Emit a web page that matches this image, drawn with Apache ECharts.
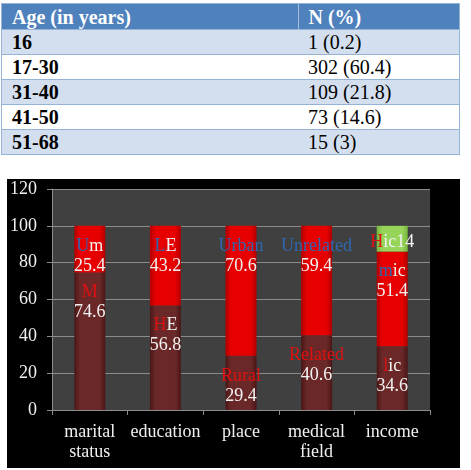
<!DOCTYPE html>
<html>
<head>
<meta charset="utf-8">
<script src="https://cdn.jsdelivr.net/npm/echarts@6/dist/echarts.min.js"></script>
<style>
  html, body { margin: 0; padding: 0; background: #ffffff; width: 471px; height: 470px; overflow: hidden; }
  #tbl { position: absolute; left: 1px; top: 3px; width: 459px; border-collapse: collapse;
         font-family: 'Liberation Serif', 'DejaVu Serif', 'Times New Roman', Times, serif; font-size: 20px; color: #000; }
  #tbl td, #tbl th { padding: 0 0 0 10px; height: 24px; line-height: 24px; text-align: left;
         border-top: 1px solid #95B3D7; border-bottom: 1px solid #95B3D7; }
  #tbl th { background: #4F81BD; color: #ffffff; font-weight: bold; height: 25px; }
  #tbl th + th { border-left: 1px solid #A7BFDE; }
  #tbl td:first-child { font-weight: bold; width: 286px; }
  #tbl tr.odd td { background: #D3DFEE; }
  #tbl tr.even td { background: #ffffff; }
  #tbl { border-left: 1px solid #95B3D7; border-right: 1px solid #95B3D7; }
  #chart { position: absolute; left: 7px; top: 179px; width: 453px; height: 289px; background: #000000; }
</style>
</head>
<body>
<table id="tbl"></table>
<div id="chart"></div>
<script>
// ---- table data ----
var tableHeader = ['Age (in years)', 'N (%)'];
var ageGroups = ['16', '17-30', '31-40', '41-50', '51-68'];
var ageCounts = ['1 (0.2)', '302 (60.4)', '109 (21.8)', '73 (14.6)', '15 (3)'];

// ---- chart data ----
var categories = ['marital\nstatus', 'education', 'place', 'medical\nfield', 'income'];
var lowerValues = [74.6, 56.8, 29.4, 40.6, 34.6];
var lowerLabelColored = ['M', 'H', 'Rural', 'Related', 'l'];
var lowerLabelPlain = ['', 'E', '', '', 'ic'];
var upperValues = [25.4, 43.2, 70.6, 59.4, 51.4];
var upperLabelColored = ['U', 'L', 'Urban', 'Unrelated', 'm'];
var upperLabelPlain = ['m', 'E', '', '', 'ic'];
var topValues = ['-', '-', '-', '-', 14];
var topLabelColored = ['', '', '', '', 'H'];
var topLabelPlain = ['', '', '', '', 'ic'];
var yTicks = { min: 0, max: 120, interval: 20 };

// build table
var tbl = document.getElementById('tbl');
var html = '<tr><th>' + tableHeader[0] + '</th><th>' + tableHeader[1] + '</th></tr>';
for (var i = 0; i < ageGroups.length; i++) {
  html += '<tr class="' + (i % 2 === 0 ? 'odd' : 'even') + '"><td>' + ageGroups[i] + '</td><td>' + ageCounts[i] + '</td></tr>';
}
tbl.innerHTML = html;

var FONT = "'Liberation Serif', 'DejaVu Serif', 'Times New Roman', Times, serif";
var chart = echarts.init(document.getElementById('chart'));

function grad(edge, mid) {
  return new echarts.graphic.LinearGradient(0, 0, 1, 0, [
    { offset: 0, color: edge }, { offset: 0.18, color: mid },
    { offset: 0.82, color: mid }, { offset: 1, color: edge }
  ]);
}

var rich = {
  r: { color: '#E01010', fontFamily: FONT, fontSize: 18, lineHeight: 20 },
  b: { color: '#2E68B0', fontFamily: FONT, fontSize: 18, lineHeight: 20 },
  w: { color: '#F2F2F2', fontFamily: FONT, fontSize: 18, lineHeight: 20 }
};

function twoLine(colored, plain, style) {
  return function (p) {
    var i = p.dataIndex;
    var first = '{' + style + '|' + colored[i] + '}' + (plain[i] ? '{w|' + plain[i] + '}' : '');
    return first + '\n{w|' + p.value + '}';
  };
}

chart.setOption({
  animation: false,
  textStyle: { fontFamily: FONT },
  grid: { left: 45, right: 30, top: 10, bottom: 58, show: true, backgroundColor: '#404040', borderWidth: 0 },
  xAxis: {
    type: 'category',
    data: categories,
    axisLine: { show: true, lineStyle: { color: '#8C8C8C', width: 1 } },
    axisTick: { show: true, length: 5, lineStyle: { color: '#8C8C8C' } },
    axisLabel: { interval: 0, color: '#F0F0F0', fontFamily: FONT, fontSize: 18, lineHeight: 20, margin: 12 }
  },
  yAxis: {
    type: 'value',
    min: yTicks.min, max: yTicks.max, interval: yTicks.interval,
    axisLine: { show: true, lineStyle: { color: '#8C8C8C', width: 1 } },
    axisTick: { show: true, length: 5, lineStyle: { color: '#8C8C8C' } },
    splitLine: { show: true, lineStyle: { color: '#8C8C8C', width: 1 } },
    axisLabel: { color: '#F0F0F0', fontFamily: FONT, fontSize: 18, margin: 15 }
  },
  series: [
    {
      type: 'bar', stack: 'a', barWidth: 31, data: lowerValues,
      itemStyle: { color: grad('#4A1616', '#6A2828') },
      label: { show: true, position: 'insideTop', distance: 10, rich: rich,
               formatter: twoLine(lowerLabelColored, lowerLabelPlain, 'r') }
    },
    {
      type: 'bar', stack: 'a', barWidth: 31, data: upperValues,
      itemStyle: { color: grad('#B00000', '#E60000') },
      label: { show: true, position: 'insideTop', distance: 10, rich: rich,
               formatter: twoLine(upperLabelColored, upperLabelPlain, 'b') }
    },
    {
      type: 'bar', stack: 'a', barWidth: 31, data: topValues,
      itemStyle: { color: grad('#78B83C', '#96D45A') },
      label: { show: true, position: 'insideTop', distance: 6, rich: rich,
               formatter: function (p) {
                 var i = p.dataIndex;
                 return '{r|' + topLabelColored[i] + '}{w|' + topLabelPlain[i] + p.value + '}';
               } }
    }
  ]
});
</script>
</body>
</html>
